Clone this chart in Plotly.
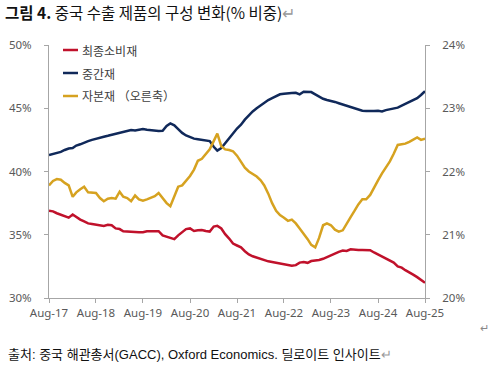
import pandas as pd
import plotly.graph_objects as go

# ---- data (monthly, Aug-2017 .. Aug-2025) ----
dates = pd.date_range("2017-08-01", "2025-08-01", freq="MS")

consumer = [  # 최종소비재 (left axis, %)
    36.9, 36.85, 36.7, 36.6, 36.5, 36.35, 36.6, 36.4, 36.2, 36.05,
    35.9, 35.85, 35.78, 35.72, 35.7, 35.78, 35.75, 35.5, 35.45, 35.28,
    35.25, 35.25, 35.25, 35.2, 35.2, 35.28, 35.28, 35.28, 35.28, 34.95,
    34.85, 34.75, 34.65, 34.95, 35.2, 35.45, 35.5, 35.3, 35.35, 35.38,
    35.3, 35.25, 35.65, 35.7, 35.5, 35.05, 34.7, 34.3, 34.15, 34.0,
    33.7, 33.45, 33.3, 33.2, 33.05, 32.95, 32.9, 32.85, 32.8, 32.75,
    32.7, 32.62, 32.55, 32.6, 32.8, 32.85, 32.78, 32.92, 32.95, 33.0,
    33.1, 33.25, 33.35, 33.55, 33.65, 33.75, 33.72, 33.85, 33.8, 33.8,
    33.8, 33.8, 33.78, 33.6, 33.45, 33.3, 33.15, 33.0, 32.8, 32.5,
    32.4, 32.2, 32.05, 31.85, 31.65, 31.45, 31.2,
]

intermediate = [  # 중간재 (left axis, %)
    41.3, 41.38, 41.45, 41.55, 41.7, 41.82, 41.85, 42.05, 42.15, 42.3,
    42.4, 42.5, 42.6, 42.65, 42.75, 42.82, 42.9, 42.95, 43.05, 43.15,
    43.2, 43.28, 43.25, 43.3, 43.35, 43.3, 43.25, 43.2, 43.2, 43.22,
    43.6, 43.8, 43.65, 43.35, 43.05, 42.85, 42.7, 42.6, 42.55, 42.5,
    42.45, 42.4, 41.95, 41.65, 41.85, 42.2, 42.6, 43.0, 43.4, 43.7,
    44.1, 44.45, 44.75, 45.0, 45.25, 45.45, 45.65, 45.8, 45.95, 46.1,
    46.15, 46.15, 46.2, 46.22, 46.1, 46.3, 46.32, 46.28, 46.1, 45.9,
    45.75, 45.65, 45.6, 45.5, 45.4, 45.3, 45.2, 45.1, 44.95, 44.85,
    44.8, 44.78, 44.75, 44.78, 44.8, 44.75, 44.85, 44.9, 44.95, 45.05,
    45.2, 45.35, 45.5, 45.65, 45.8, 46.05, 46.35,
]

capital = [  # 자본재 (right axis, %)
    21.78, 21.85, 21.88, 21.87, 21.82, 21.78, 21.6, 21.67, 21.72, 21.76,
    21.67, 21.67, 21.66, 21.58, 21.53, 21.57, 21.58, 21.57, 21.68, 21.6,
    21.58, 21.53, 21.62, 21.56, 21.54, 21.56, 21.59, 21.61, 21.66, 21.58,
    21.5, 21.45, 21.62, 21.76, 21.78, 21.85, 21.93, 22.03, 22.17, 22.2,
    22.28, 22.35, 22.48, 22.6, 22.4, 22.35, 22.34, 22.32, 22.25, 22.16,
    22.06, 22.0, 21.96, 21.92, 21.86, 21.78, 21.65, 21.5, 21.38, 21.31,
    21.27, 21.22, 21.24, 21.18, 21.1, 21.02, 20.93, 20.84, 20.8, 20.95,
    21.15, 21.18, 21.15, 21.08, 21.05, 21.07, 21.18, 21.28, 21.38, 21.48,
    21.56, 21.56, 21.63, 21.75, 21.86, 21.97, 22.06, 22.16, 22.28, 22.42,
    22.43, 22.44, 22.47, 22.5, 22.54, 22.5, 22.52,
]

series_names = ["최종소비재", "중간재", "자본재 （오른축）"]
left_ticks = [30, 35, 40, 45, 50]
right_ticks = [20, 21, 22, 23, 24]
x_ticks = pd.date_range("2017-08-01", "2025-08-01", freq="12MS")

title_text = "<b>그림 4.</b> 중국 수출 제품의 구성 변화(% 비중)"
source_text = "출처: 중국 해관총서(GACC), Oxford Economics. 딜로이트 인사이트"

RED = "#C0112B"
NAVY = "#10295A"
GOLD = "#D6A220"
AXIS = "#A6A6A6"
TICKFONT = dict(family="Noto Sans, Open Sans, sans-serif", size=11.5, color="#595959")

# plot area in pixels: x 49..425, y 45..298
PW, PH = 376, 253
def px(x):
    return (x - 49) / PW
def py(y):
    return (298 - y) / PH

colors = [RED, NAVY, GOLD]
fig = go.Figure()
fig.add_trace(go.Scatter(x=dates, y=consumer, name=series_names[0], mode="lines",
                         line=dict(color=RED, width=2.5)))
fig.add_trace(go.Scatter(x=dates, y=intermediate, name=series_names[1], mode="lines",
                         line=dict(color=NAVY, width=2.5)))
fig.add_trace(go.Scatter(x=dates, y=capital, name=series_names[2], mode="lines",
                         line=dict(color=GOLD, width=2.5), yaxis="y2"))

fig.update_layout(
    width=497, height=370,
    margin=dict(l=49, r=72, t=45, b=72, autoexpand=False),
    paper_bgcolor="white", plot_bgcolor="white",
    showlegend=False,
    xaxis=dict(type="date", range=[dates[0], dates[-1]],
               tickvals=list(x_ticks), tickformat="%b-%y",
               showgrid=False, zeroline=False, automargin=False,
               showline=True, linecolor=AXIS, linewidth=1,
               ticks="outside", ticklen=4, tickcolor=AXIS,
               tickfont=TICKFONT),
    yaxis=dict(range=[30, 50], tickvals=left_ticks,
               ticktext=[f"{v}%" for v in left_ticks],
               showgrid=False, zeroline=False, automargin=False,
               showline=True, linecolor=AXIS, linewidth=1,
               ticks="outside", ticklen=4, tickcolor=AXIS,
               ticklabelstandoff=10,
               tickfont=TICKFONT),
    yaxis2=dict(range=[20, 24], tickvals=right_ticks,
                ticktext=[f"{v}%" for v in right_ticks],
                overlaying="y", side="right",
                showgrid=False, zeroline=False, automargin=False,
                showline=True, linecolor=AXIS, linewidth=1,
                ticks="outside", ticklen=4, tickcolor=AXIS,
                ticklabelstandoff=10,
                tickfont=TICKFONT),
    font=dict(family="Noto Sans CJK KR"),
)

# legend (drawn manually to match the short line samples)
legend_rows = [50, 73, 96]
for name, col, yy in zip(series_names, colors, legend_rows):
    fig.add_shape(type="line", xref="paper", yref="paper",
                  x0=px(63), x1=px(78), y0=py(yy), y1=py(yy),
                  line=dict(color=col, width=2.5))
    fig.add_annotation(text=name, xref="paper", yref="paper",
                       x=px(80), y=py(yy), xanchor="left", yanchor="middle",
                       showarrow=False,
                       font=dict(family="Noto Sans CJK KR", size=12, color="#404040"))

fig.add_annotation(text=title_text + "<span style='color:#9a9a9a'>↵</span>",
                   xref="paper", yref="paper", x=px(3), y=py(12),
                   xanchor="left", yanchor="middle", showarrow=False,
                   font=dict(family="Noto Sans CJK KR", size=15.5, color="#111111"))
fig.add_annotation(text=source_text + "<span style='color:#9a9a9a'>↵</span>",
                   xref="paper", yref="paper", x=px(6), y=py(354),
                   xanchor="left", yanchor="middle", showarrow=False,
                   font=dict(family="Liberation Sans, Noto Sans CJK KR", size=13, color="#111111"))
fig.add_annotation(text="↵", xref="paper", yref="paper", x=px(484), y=py(327),
                   xanchor="center", yanchor="middle", showarrow=False,
                   font=dict(family="Noto Sans CJK KR", size=11, color="#888888"))

fig.write_html("out.html", config={"displayModeBar": False},
               post_script="document.body.style.margin='0';document.body.style.overflow='hidden';")
